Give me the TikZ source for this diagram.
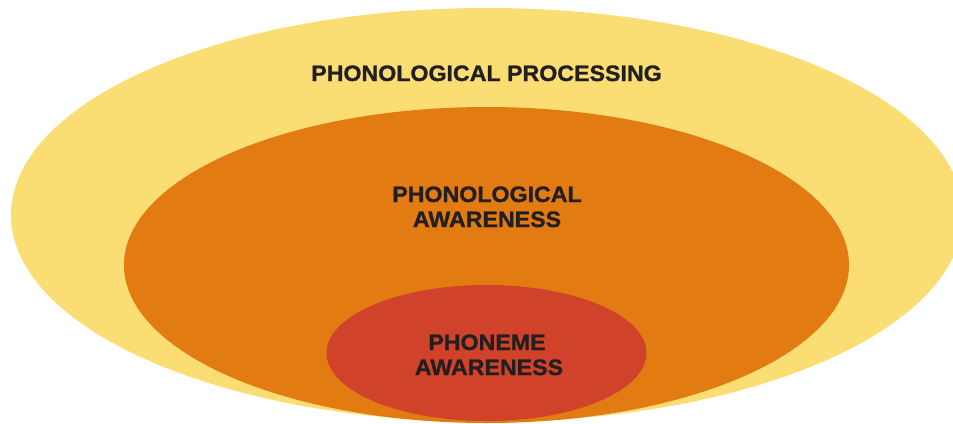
\documentclass[tikz,border=0pt]{standalone}
\usepackage{fontspec}
\setmainfont{Liberation Sans}[FakeStretch=1.04, BoldFeatures={FakeBold=1.2}]
\usetikzlibrary{shapes.geometric}
\definecolor{pyellow}{HTML}{FADE73}
\definecolor{porange}{HTML}{E17B12}
\definecolor{pred}{HTML}{D1422A}
\definecolor{ptext}{HTML}{231F20}
\tikzset{
  blob/.style={ellipse, inner sep=0pt, outer sep=0pt, draw=none},
  lbl/.style={anchor=base, inner sep=0pt, text=ptext, font=\fontsize{22.3}{25}\selectfont\bfseries}
}
\begin{document}
\begin{tikzpicture}[x=1pt,y=-1pt]
\useasboundingbox (0,0) rectangle (953,423);
\clip (0,0) rectangle (953,423);
\node[blob, fill=pyellow, minimum width=952pt, minimum height=414pt] (outer) at (487,215) {};
\node[blob, fill=porange, minimum width=725pt, minimum height=316pt] (mid) at (486.5,265) {};
\node[blob, fill=pred, minimum width=320pt, minimum height=136pt] (inner) at (486.5,353) {};
\node[lbl] (t1) at (486.5,81) {PHONOLOGICAL PROCESSING};
\node[lbl] (t2) at (487,202) {PHONOLOGICAL};
\node[lbl] (t3) at (487,227) {AWARENESS};
\node[lbl] (t4) at (487,350) {PHONEME};
\node[lbl] (t5) at (489,375) {AWARENESS};
\end{tikzpicture}
\end{document}
